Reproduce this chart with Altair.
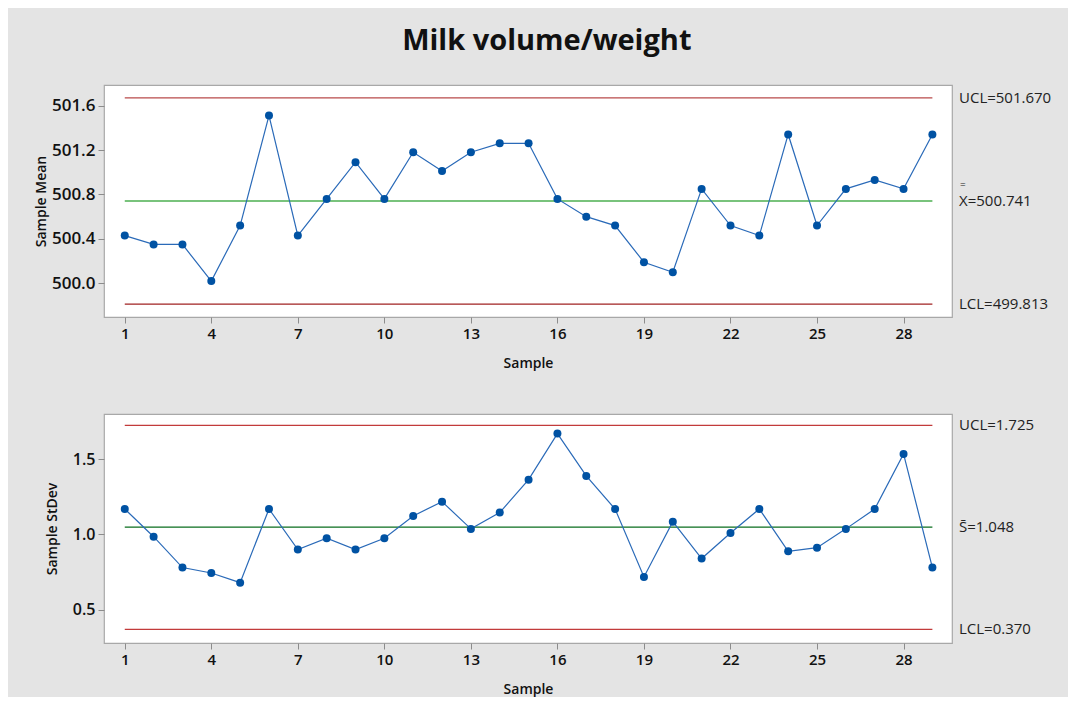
import altair as alt
import pandas as pd

# ---------------- data ----------------
samples = list(range(1, 30))
means = [500.43, 500.35, 500.35, 500.02, 500.52, 501.51, 500.43, 500.76, 501.09, 500.76,
         501.18, 501.01, 501.18, 501.26, 501.26, 500.76, 500.60, 500.52, 500.19, 500.10,
         500.85, 500.52, 500.43, 501.34, 500.52, 500.85, 500.93, 500.85, 501.34]
stdevs = [1.169, 0.985, 0.780, 0.744, 0.680, 1.169, 0.900, 0.975, 0.900, 0.975,
          1.123, 1.218, 1.037, 1.145, 1.364, 1.670, 1.389, 1.169, 0.718, 1.085,
          0.840, 1.010, 1.169, 0.888, 0.912, 1.037, 1.169, 1.535, 0.780]
xbar_limits = [501.670, 500.741, 499.813]
xbar_labels = ["UCL=501.670", "X=500.741", "LCL=499.813"]
s_limits = [1.725, 1.048, 0.370]
s_labels = ["UCL=1.725", "S\u0304=1.048", "LCL=0.370"]
x_ticks = [1, 4, 7, 10, 13, 16, 19, 22, 25, 28]
xbar_ticks = [500.0, 500.4, 500.8, 501.2, 501.6]
s_ticks = [0.5, 1.0, 1.5]

FONT = "Open Sans"
W = 848


def panel(values, limits, labels, colors, ytitle, ydomain, yticks, yfmt, height,
          bar_mark, ytitle_pad, ylabel_size):
    df = pd.DataFrame({"Sample": samples, "Value": values})
    lim = pd.DataFrame({"Sample": [samples[0]] * 3, "End": [samples[-1]] * 3,
                        "Value": limits, "label": labels, "color": colors})
    xs = alt.Scale(domain=[0.28, 29.68], nice=False, zero=False)
    ys = alt.Scale(domain=ydomain, nice=False, zero=False)
    xax = alt.Axis(values=x_ticks, title="Sample", labelFontWeight=600, labelFontSize=15,
                   titlePadding=15)
    yax = alt.Axis(values=yticks, format=yfmt, title=ytitle, labelFontWeight=600,
                   labelFontSize=ylabel_size, titlePadding=ytitle_pad)
    X = alt.X("Sample:Q", scale=xs, axis=xax)
    Y = alt.Y("Value:Q", scale=ys, axis=yax)

    rules = alt.Chart(lim).mark_rule(strokeWidth=1.3).encode(
        x=X, x2="End:Q", y=Y, color=alt.Color("color:N", scale=None))
    line = alt.Chart(df).mark_line(color="#2a6ab8", strokeWidth=1.2).encode(x=X, y=Y)
    pts = alt.Chart(df).mark_circle(size=64, opacity=1, color="#0052a3").encode(x=X, y=Y)
    txt = alt.Chart(lim).mark_text(align="left", baseline="middle", fontSize=15,
                                   font=FONT, color="#222222").encode(
        x=alt.value(W + 7), y=Y, text="label:N")
    layers = [rules, line, pts, txt]
    if bar_mark:
        center = lim.iloc[[1]].copy()
        center["label"] = "="
        eq = alt.Chart(center).mark_text(align="left", baseline="middle", fontSize=10,
                                         font=FONT, dy=-16, color="#222222").encode(
            x=alt.value(W + 8), y=Y, text="label:N")
        layers.append(eq)
    return alt.layer(*layers).properties(width=W, height=height)


top = panel(means, xbar_limits, xbar_labels, ["#b84a4a", "#4caf50", "#a02222"],
            "Sample Mean", [499.697, 501.785], xbar_ticks, ".1f", 232, True, 3, 17)
bottom = panel(stdevs, s_limits, s_labels, ["#c23b3b", "#0a6e1e", "#c23b3b"],
               "Sample StDev", [0.279, 1.80], s_ticks, ".1f", 229, False, 13, 16)

chart = alt.vconcat(top, bottom, spacing=42).properties(
    title=alt.TitleParams("Milk volume/weight", fontSize=29, font=FONT, fontWeight="bold",
                          anchor="middle", color="#111111", offset=28, dx=4),
    padding={"left": 25, "top": 19, "right": 16, "bottom": 0},
    background="#e4e4e4",
).configure_view(
    stroke="#a8a8a8", fill="white", strokeWidth=1.2
).configure_axis(
    domain=False, grid=False, tickColor="#8c8c8c", tickSize=6, labelPadding=3,
    labelFont=FONT, titleFont=FONT, titleFontSize=14, titleFontWeight=600,
    labelColor="#111111", titleColor="#111111"
)

chart.save("out.html", embed_options={"renderer": "svg", "actions": False})
